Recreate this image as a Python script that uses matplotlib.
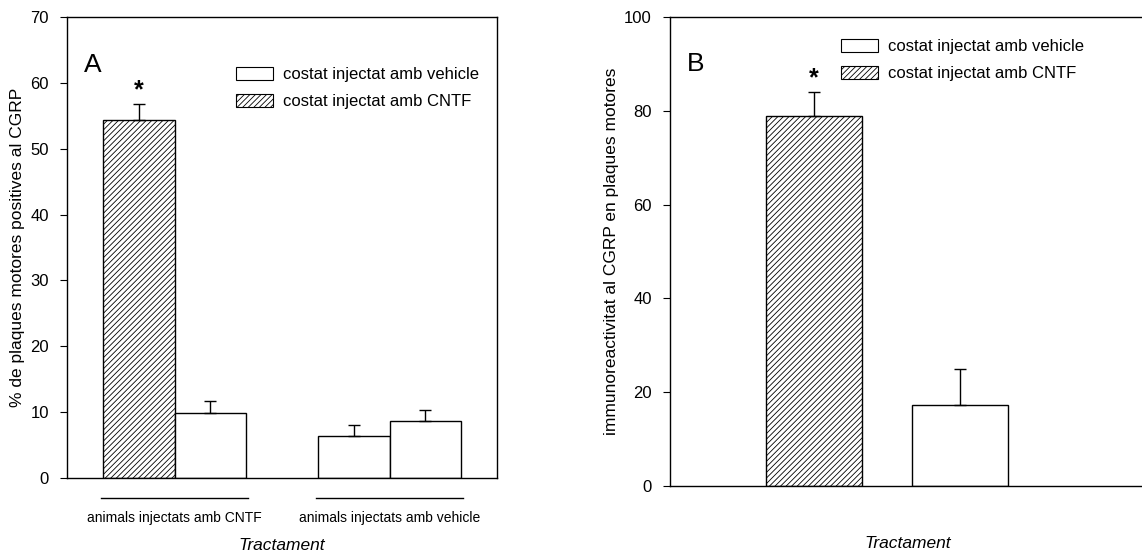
import matplotlib.pyplot as plt
from matplotlib.patches import Patch
import matplotlib.transforms as mtransforms

plt.rcParams['font.family'] = ['Liberation Sans', 'DejaVu Sans']
plt.rcParams['hatch.linewidth'] = 0.6

# ---------- data ----------
groups_a = ['animals injectats amb CNTF', 'animals injectats amb vehicle']
a_means = [54.4, 9.8, 6.4, 8.6]
a_errs = [2.4, 1.9, 1.7, 1.8]
a_hatched = [True, False, False, False]

b_means = [79.0, 17.3]
b_errs = [5.0, 7.6]
b_hatched = [True, False]

legend_labels = ['costat injectat amb vehicle', 'costat injectat amb CNTF']

# ---------- figure ----------
fig = plt.figure(figsize=(11.42, 5.55), dpi=100)
axA = fig.add_axes([0.0587, 0.1387, 0.3765, 0.8306])
axB = fig.add_axes([0.5867, 0.1243, 0.4160, 0.8450])


def draw_bars(ax, xs, means, errs, hatched):
    for x, m, e, h in zip(xs, means, errs, hatched):
        ax.bar(x, m, width=1.0, color='white', edgecolor='black', lw=1.0,
               hatch='//////' if h else None, zorder=2)
        ax.errorbar(x, m, yerr=[[0], [e]], fmt='none', ecolor='black',
                    elinewidth=1.0, capsize=4, capthick=1.0, zorder=3)


def style(ax):
    ax.tick_params(axis='y', direction='out', length=5, width=0.8,
                   labelsize=12, pad=8)
    ax.tick_params(axis='x', length=0)
    for s in ax.spines.values():
        s.set_linewidth(1.0)


def add_legend(ax, loc):
    handles = [Patch(facecolor='white', edgecolor='black', lw=0.8),
               Patch(facecolor='white', edgecolor='black', lw=0.8,
                     hatch='//////')]
    ax.legend(handles, legend_labels, loc='upper left', bbox_to_anchor=loc,
              frameon=False, fontsize=12, handlelength=2.2, handleheight=0.8,
              handletextpad=0.6, labelspacing=0.7, borderpad=0,
              borderaxespad=0)


# ---------- panel A ----------
centers_a = [1.5, 4.5]
xs_a = [c + d for c in centers_a for d in (-0.5, 0.5)]
draw_bars(axA, xs_a, a_means, a_errs, a_hatched)
axA.set_xlim(0, 6)
axA.set_ylim(0, 70)
axA.set_yticks(range(0, 71, 10))
axA.set_xticks(centers_a)
axA.set_xticklabels(groups_a, fontsize=10)
style(axA)
axA.tick_params(axis='x', pad=24)
axA.set_ylabel('% de plaques motores positives al CGRP', fontsize=12.5,
               labelpad=4)
axA.set_xlabel('Tractament', fontsize=12.5, style='italic', labelpad=9)
trans = mtransforms.blended_transform_factory(axA.transData, axA.transAxes)
for c in centers_a:
    axA.plot([c - 1.02, c + 1.02], [-0.043, -0.043], color='black', lw=1.0,
             transform=trans, clip_on=False)
axA.text(0.04, 0.895, 'A', transform=axA.transAxes, fontsize=19, va='center')
axA.text(xs_a[0], a_means[0] + a_errs[0] + 0.3, '*', ha='center', va='bottom',
         fontsize=18, fontweight='bold')
add_legend(axA, (0.393, 0.891))

# ---------- panel B ----------
xs_b = [1.5, 3.02]
draw_bars(axB, xs_b, b_means, b_errs, b_hatched)
axB.set_xlim(0, 4.95)
axB.set_ylim(0, 100)
axB.set_yticks(range(0, 101, 20))
axB.set_xticks([])
style(axB)
axB.set_ylabel('immunoreactivitat al CGRP en plaques motores', fontsize=12.5,
               labelpad=4)
axB.set_xlabel('Tractament', fontsize=12.5, style='italic', labelpad=36)
axB.text(0.035, 0.9, 'B', transform=axB.transAxes, fontsize=19, va='center')
axB.text(xs_b[0], b_means[0] + b_errs[0] + 0.3, '*', ha='center', va='bottom',
         fontsize=18, fontweight='bold')
add_legend(axB, (0.36, 0.953))

fig.savefig('out.png', dpi=100)
plt.close(fig)
